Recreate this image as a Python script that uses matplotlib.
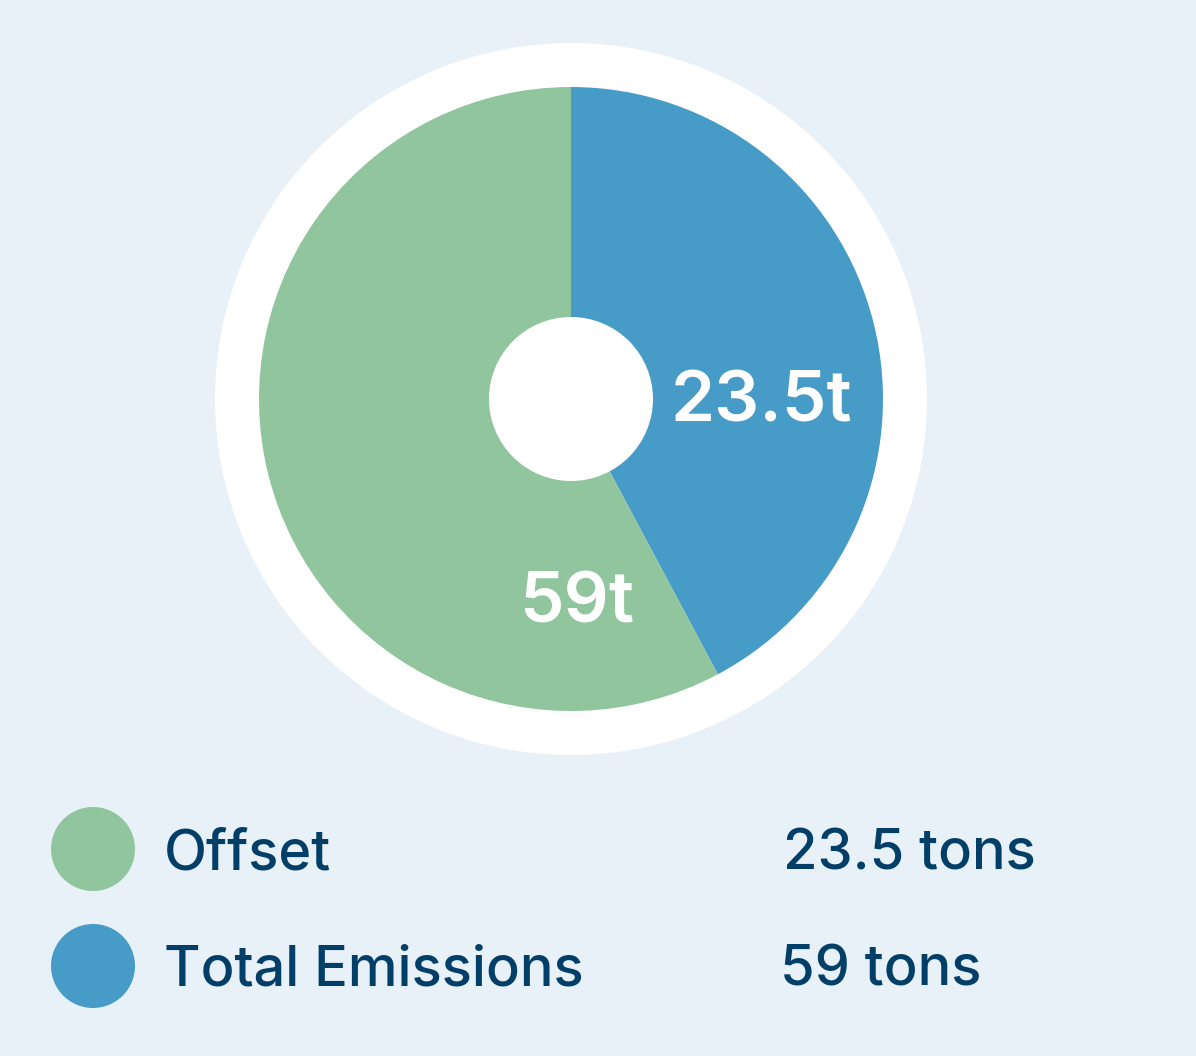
import matplotlib.pyplot as plt
from matplotlib.patches import Circle

plt.rcParams['font.family'] = ['Inter', 'DejaVu Sans']

# data
categories = ['Offset', 'Total Emissions']
legend_values = ['23.5 tons', '59 tons']
wedge_shares = [42.2, 57.8]          # blue, green (measured angles)
wedge_labels = ['23.5t', '59t']

bg = '#e8f1f7'
green = '#90c59d'
blue = '#479bc7'
navy = '#023f68'
legend_colors = [green, blue]

fig = plt.figure(figsize=(11.96, 10.56), dpi=100, facecolor=bg)

# background axes in pixel units, for the legend
ax_bg = fig.add_axes([0, 0, 1, 1])
ax_bg.set_xlim(0, 1196)
ax_bg.set_ylim(1056, 0)
ax_bg.axis('off')
ax_bg.set_facecolor(bg)

for i, (name, val, col) in enumerate(zip(categories, legend_values, legend_colors)):
    y = 849 + i * 117
    ax_bg.add_patch(Circle((93, y), 42, color=col, lw=0))
    ax_bg.text(164, y + 20, name, fontsize=40.3, color=navy, va='baseline', ha='left',
               fontweight='medium')
    ax_bg.text(780 + (3 if i == 0 else 0), y + 20, val, fontsize=40.3, color=navy,
               va='baseline', ha='left', fontweight='medium')

# pie axes: 712 px square centred at (571, 399)
ax = fig.add_axes([215 / 1196, (1056 - 755) / 1056, 712 / 1196, 712 / 1056])
ax.add_patch(Circle((0, 0), 356, color='white', lw=0, zorder=0))
ax.pie(wedge_shares, colors=[blue, green], radius=312, startangle=90,
       counterclock=False, frame=True, wedgeprops=dict(linewidth=0))
ax.set_xlim(-356, 356)
ax.set_ylim(-356, 356)
ax.axis('off')
ax.add_patch(Circle((0, 0), 82, color='white', lw=0, zorder=5))

ax.text(190, -4, wedge_labels[0], fontsize=51, color='white', fontweight='semibold',
        ha='center', va='center', zorder=6)
ax.text(6, -205, wedge_labels[1], fontsize=51, color='white', fontweight='semibold',
        ha='center', va='center', zorder=6)

fig.savefig('out.png', dpi=100, facecolor=bg)
